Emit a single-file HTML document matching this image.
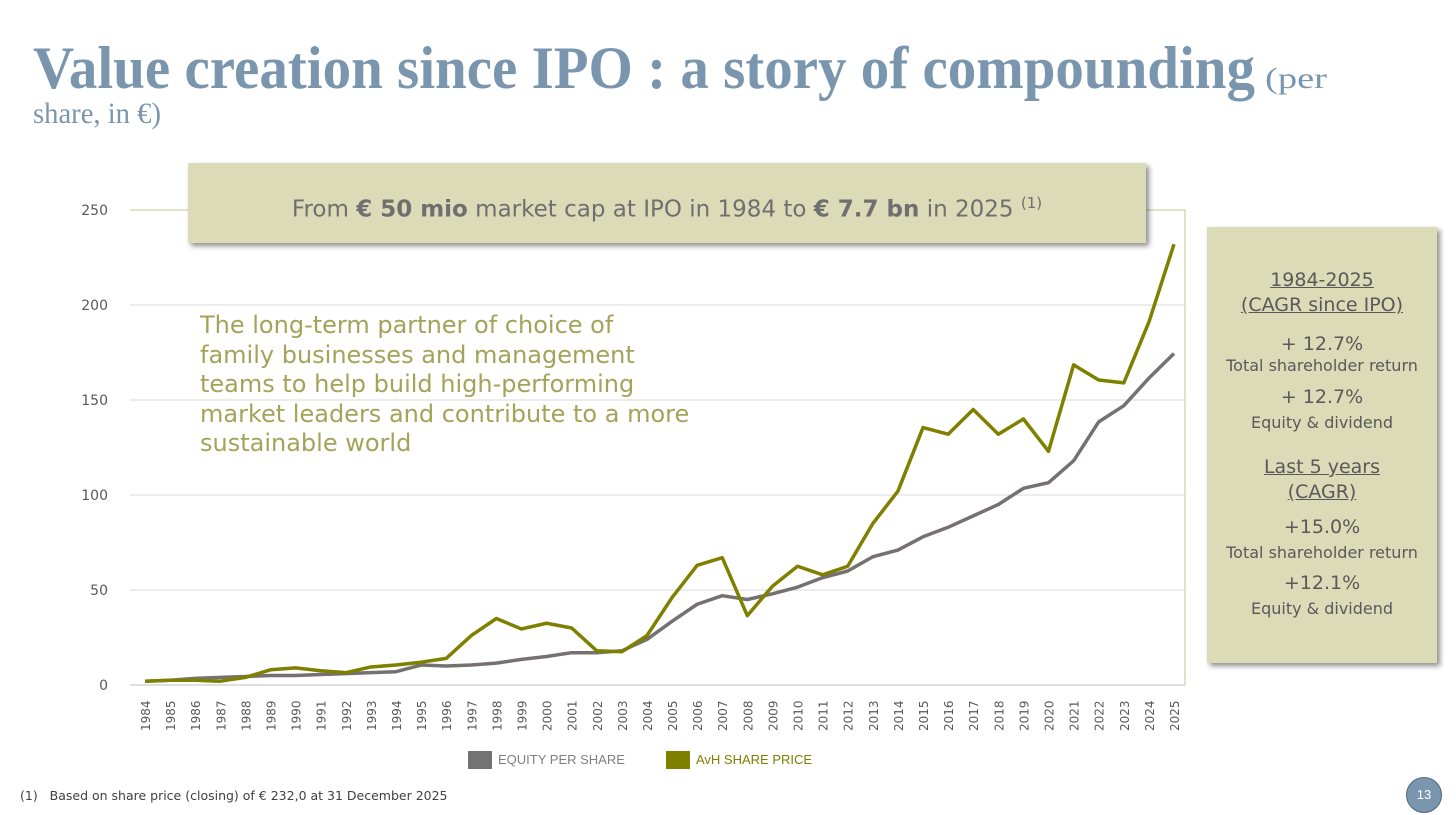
<!DOCTYPE html>
<html><head><meta charset="utf-8"><style>
body{margin:0;width:1456px;height:815px;background:#fff;overflow:hidden;font-family:"Liberation Sans",sans-serif;position:relative}
.abs{position:absolute}
.cb div{position:absolute;left:0;width:230px;text-align:center;white-space:nowrap}
.big{font-size:19px}
.sm{font-size:16px}
.u{text-decoration:underline}
</style></head><body>
<svg class="abs" style="left:0;top:0" width="1456" height="815">
<text x="33" y="88" font-family="Liberation Serif" font-weight="bold" font-size="60" fill="#7996ae" textLength="1222" lengthAdjust="spacingAndGlyphs">Value creation since IPO : a story of compounding</text>
<text x="1265" y="88" font-family="Liberation Serif" font-size="30" fill="#7996ae" textLength="62" lengthAdjust="spacingAndGlyphs">(per</text>
<text x="33" y="123" font-family="Liberation Serif" font-size="30" fill="#7996ae" textLength="128" lengthAdjust="spacingAndGlyphs">share, in €)</text>
<g id="plot"></g>
</svg>
<div class="abs" style="left:188px;top:163px;width:958px;height:80px;background:#dbdbb8;box-shadow:3px 3px 5px rgba(0,0,0,.45);font-family:'DejaVu Sans',sans-serif;font-size:23px;color:#6f6f6f;text-align:center;line-height:80px">From <b>€ 50 mio</b> market cap at IPO in 1984 to <b>€ 7.7 bn</b> in 2025 <sup style="font-size:15px">(1)</sup></div>
<div class="abs" style="left:200px;top:311px;font-family:'DejaVu Sans',sans-serif;font-size:24px;line-height:29.5px;color:#a3a35a;width:560px">The long-term partner of choice of<br>family businesses and management<br>teams to help build high-performing<br>market leaders and contribute to a more<br>sustainable world</div>
<div class="abs cb" style="left:1207px;top:227px;width:230px;height:436px;background:#dbdbb8;box-shadow:3px 3px 5px rgba(0,0,0,.45);font-family:'DejaVu Sans',sans-serif;color:#595959">
<div class="big u" style="top:42px">1984-2025</div>
<div class="big u" style="top:67px">(CAGR since IPO)</div>
<div class="big" style="top:106px">+ 12.7%</div>
<div class="sm" style="top:129px">Total shareholder return</div>
<div class="big" style="top:159px">+ 12.7%</div>
<div class="sm" style="top:186px">Equity &amp; dividend</div>
<div class="big u" style="top:229px">Last 5 years</div>
<div class="big u" style="top:254px">(CAGR)</div>
<div class="big" style="top:289px">+15.0%</div>
<div class="sm" style="top:316px">Total shareholder return</div>
<div class="big" style="top:345px">+12.1%</div>
<div class="sm" style="top:372px">Equity &amp; dividend</div>
</div>
<div class="abs" style="left:468px;top:751px;font-size:13px;color:#7f7f7f;line-height:18px"><span style="display:inline-block;width:24px;height:18px;background:#737373;vertical-align:top;margin-right:6px"></span>EQUITY PER SHARE</div>
<div class="abs" style="left:666px;top:751px;font-size:13px;color:#7f7f00;line-height:18px"><span style="display:inline-block;width:24px;height:18px;background:#7f7f00;vertical-align:top;margin-right:6px"></span>AvH SHARE PRICE</div>
<div class="abs" style="left:20px;top:788px;font-family:'DejaVu Sans',sans-serif;font-size:12.5px;color:#404040">(1)&nbsp;&nbsp;&nbsp;Based on share price (closing) of € 232,0 at 31 December 2025</div>
<div class="abs" style="left:1406px;top:777px;width:34px;height:34px;border-radius:50%;background:#7996ae;border:1px solid #50667a;color:#fff;font-size:13px;text-align:center;line-height:34px">13</div>
<script>
const years=[];for(let y=1984;y<=2025;y++)years.push(y);
const sharePrice=[2,2.5,2.5,2,4,8,9,7.5,6.5,9.5,10.5,12,14,26,35,29.5,32.5,30,18,17.5,26,46,63,67,36.5,52,62.5,58,62.5,85,102,135.5,132,145,132,140,123,168.5,160.5,159,191,232];
const equityPerShare=[2,2.5,3.5,4,4.5,5,5,5.5,6,6.5,7,10.5,10,10.5,11.5,13.5,15,17,17,18,24,33.5,42.5,47,45,48,51.5,56.5,60,67.5,71,78,83,89,95,103.5,106.5,118,138.5,147,161.5,174.5];
const yTicks=[0,50,100,150,200,250];
const NS='http://www.w3.org/2000/svg';
const g=document.getElementById('plot');
const X=i=>145+i*(1174-145)/(years.length-1);
const Y=v=>685-v*1.9;
function el(t,a){const e=document.createElementNS(NS,t);for(const k in a)e.setAttribute(k,a[k]);g.appendChild(e);return e;}
yTicks.forEach(t=>{
 const l=el('line',{x1:130,x2:1185,y1:Y(t),y2:Y(t),stroke:t===0?'#bfbfbf':'#d9d9d9','stroke-width':1});
 
 
 const tx=el('text',{x:108,y:Y(t)+5,'text-anchor':'end','font-size':14,fill:'#595959','font-family':'DejaVu Sans'});
 tx.textContent=t;
 
 
});
const fr=el('polyline',{points:`130,${Y(250)} 1185,${Y(250)} 1185,685`,fill:'none',stroke:'#c6c68a','stroke-width':1});


years.forEach((y,i)=>{
 const tx=el('text',{transform:`translate(${X(i)+5},${731}) rotate(-90)`,'font-size':12,fill:'#595959','font-family':'DejaVu Sans'});
 tx.textContent=y;
 
 
});
const le=el('polyline',{points:equityPerShare.map((v,i)=>X(i)+','+Y(v)).join(' '),fill:'none',stroke:'#767171','stroke-width':3.5,'stroke-linejoin':'round'});


const ls=el('polyline',{points:sharePrice.map((v,i)=>X(i)+','+Y(v)).join(' '),fill:'none',stroke:'#7f7f00','stroke-width':3.5,'stroke-linejoin':'round'});


</script>
</body></html>
